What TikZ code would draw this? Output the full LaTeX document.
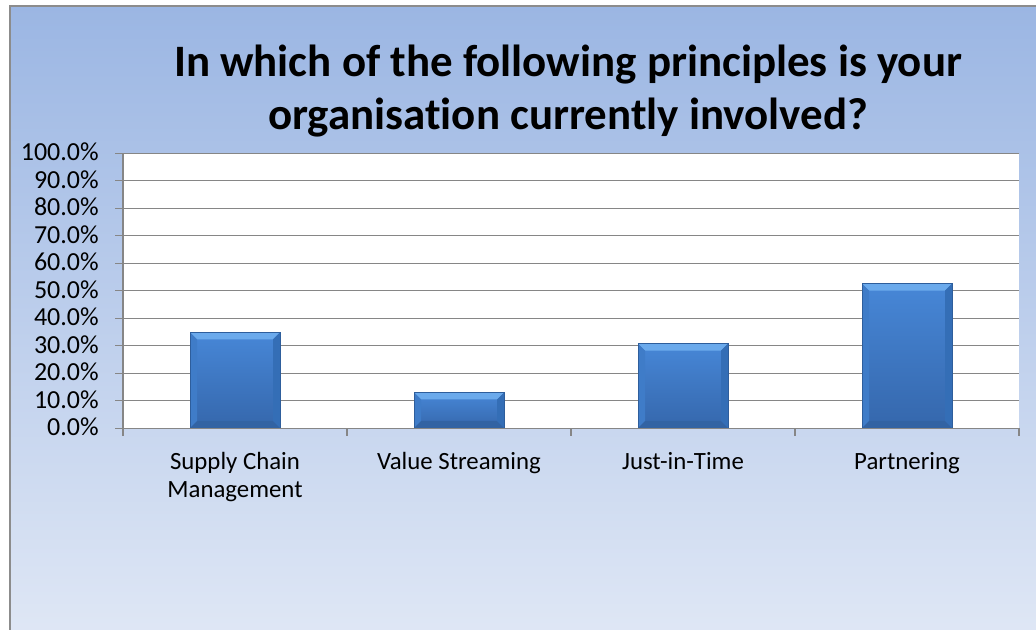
\documentclass[tikz,border=0pt]{standalone}
\usepackage{fontspec}
\setmainfont[Ligatures=NoCommon]{Carlito}
\usepackage{xcolor}
\usetikzlibrary{positioning,calc}
\definecolor{panelTop}{HTML}{9BB6E3}
\definecolor{panelBot}{HTML}{DFE7F5}
\definecolor{frameGray}{HTML}{8C8C8C}
\definecolor{gridGray}{HTML}{868686}
\definecolor{barHi}{HTML}{4787D7}
\definecolor{barLo}{HTML}{3567AC}
\definecolor{barTopBevel}{HTML}{6BAAEC}
\definecolor{barBotBevel}{HTML}{3263A3}
\definecolor{barLeftBevel}{HTML}{3F7CC8}
\definecolor{barRightBevel}{HTML}{346EB6}
\definecolor{barEdge}{HTML}{2E5E9C}
\tikzset{
  chart bar/.style={rectangle, draw=barEdge, line width=0.5pt, inner sep=0pt, anchor=south,
    minimum width=67.5pt, top color=barHi, bottom color=barLo,
    path picture={
      \fill[barTopBevel] (path picture bounding box.north west) -- (path picture bounding box.north east)
        -- ([shift={(-7,7)}]path picture bounding box.north east) -- ([shift={(7,7)}]path picture bounding box.north west) -- cycle;
      \fill[barBotBevel] (path picture bounding box.south west) -- (path picture bounding box.south east)
        -- ([shift={(-7,-7)}]path picture bounding box.south east) -- ([shift={(7,-7)}]path picture bounding box.south west) -- cycle;
      \fill[barLeftBevel] (path picture bounding box.north west) -- (path picture bounding box.south west)
        -- ([shift={(7,-7)}]path picture bounding box.south west) -- ([shift={(7,7)}]path picture bounding box.north west) -- cycle;
      \fill[barRightBevel] (path picture bounding box.north east) -- (path picture bounding box.south east)
        -- ([shift={(-7,-7)}]path picture bounding box.south east) -- ([shift={(-7,7)}]path picture bounding box.north east) -- cycle;
    }},
  bar value/.style={minimum height=#1*2.0625pt},
  chart grid/.style={draw=gridGray, line width=0.9pt},
  chart tick/.style={font=\fontsize{19.5}{22}\selectfont, inner sep=0pt},
  chart cat/.style={font=\fontsize{18.6}{21}\selectfont, align=center, inner sep=0pt, anchor=base},
  chart title/.style={font=\bfseries\fontsize{33.7}{40}\selectfont, inner sep=0pt, anchor=base}
}

\begin{document}
\begin{tikzpicture}[x=0.75pt, y=-0.75pt]
    \useasboundingbox (0,0) rectangle (1036,629);
    \clip (0,0) rectangle (1036,629);
    \fill[white] (0,0) rectangle (1036,629);

    % Chart panel
    \draw[frameGray, line width=1.1pt, top color=panelTop, bottom color=panelBot] (10,6) rectangle (1042,636);

    % Title
    \node [chart title] (title1) at (568,76) {In which of the following principles is your};
    \node [chart title] (title2) at (568,129) {organisat\kern0pt ion currently involved?};

    % Plot area and gridlines
    \fill[white] (123,153.3) rectangle (1019,428.3);
    \foreach \k in {0,...,10}{
      \pgfmathsetmacro{\yy}{428.3-27.5*\k}
      \pgfmathtruncatemacro{\pct}{10*\k}
      \draw[chart grid] (115,\yy) -- (1019,\yy);
      \node [chart tick, anchor=base east] (ylab\k) at (99,\yy+7.5) {\pct.0\%};
    }

    % Bars
    \node [chart bar, bar value=34.8] (barSupply) at (235,428.3) {};
    \node [chart bar, bar value=12.9] (barValue) at (459,428.3) {};
    \node [chart bar, bar value=30.7] (barJIT) at (683,428.3) {};
    \node [chart bar, bar value=52.5] (barPartner) at (907,428.3) {};

    % Axes
    \draw[chart grid] (123,153.3) -- (123,436.3);
    \draw[chart grid] (123,428.3) -- (1019,428.3);
    \foreach \xx in {347,571,795,1019}
      \draw[chart grid] (\xx,428.3) -- (\xx,436.3);

    % Category labels (base = last line)
    \node [chart cat] (catSupply) at (235,497) {Supply Chain\\Management};
    \node [chart cat] (catValue) at (459,469) {Value Streaming};
    \node [chart cat] (catJIT) at (683,469) {Just-in-Time};
    \node [chart cat] (catPartner) at (907,469) {Partnering};
\end{tikzpicture}
\end{document}
